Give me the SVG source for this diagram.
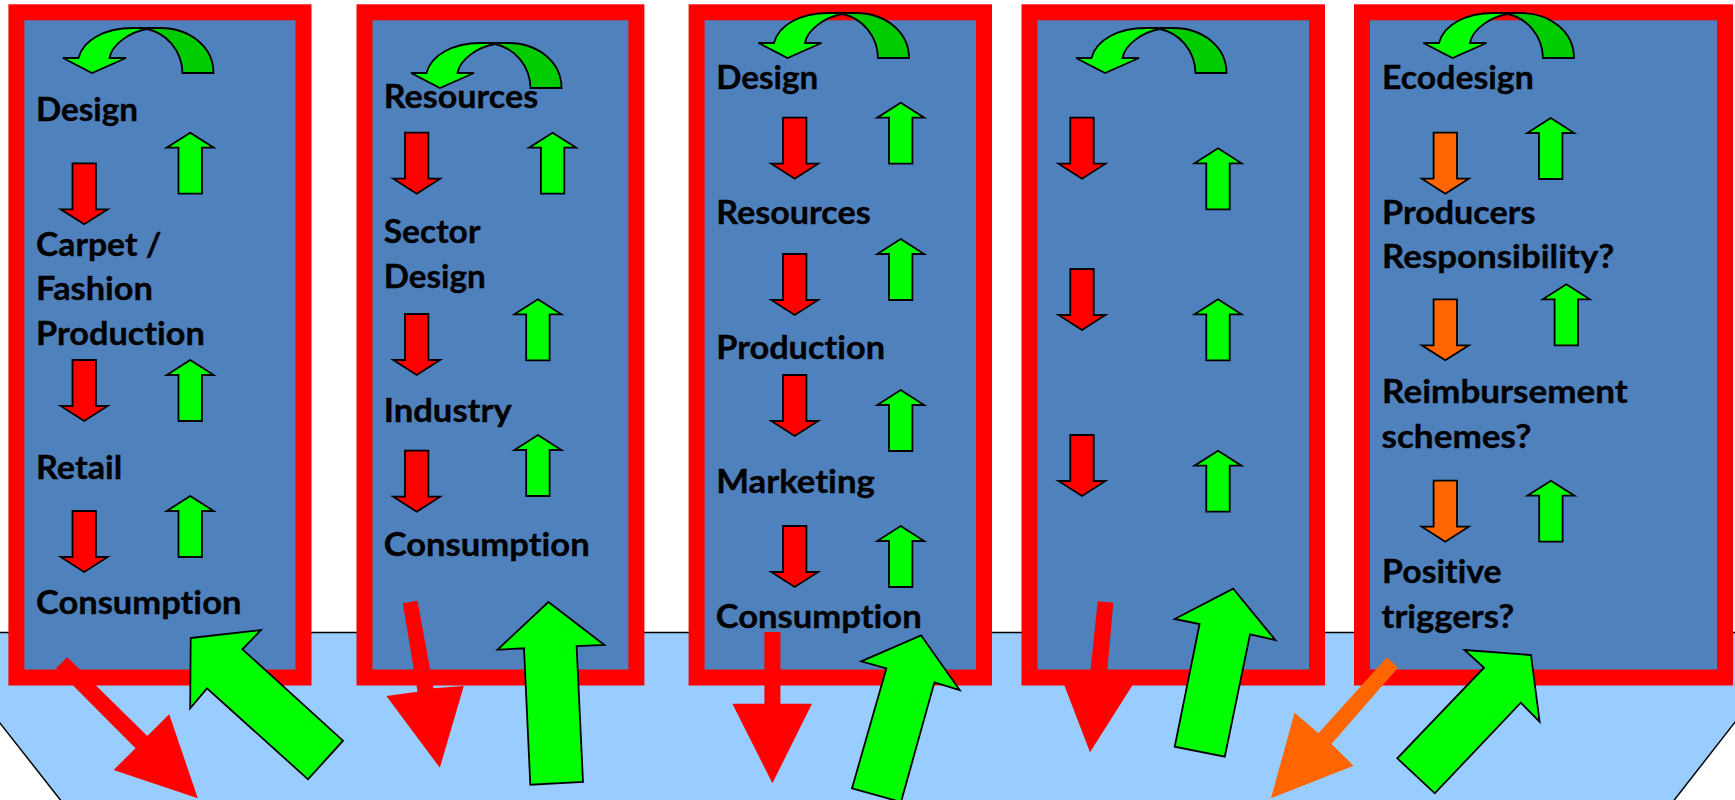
<svg xmlns="http://www.w3.org/2000/svg" width="1735" height="800" viewBox="0 0 1735 800">
<style>
.panel{fill:#4F81BD;stroke:#FF0000;stroke-width:16}
.bg{fill:#99CCFF;stroke:#000;stroke-width:1.5}
.a{stroke:#000;stroke-width:1.8;stroke-linejoin:miter}
.g{fill:#00FF00}.r{fill:#FF0000}.o{fill:#FF6600}.dg{fill:#00CC00}
.big-r{fill:#FF0000;stroke:none}.big-o{fill:#FF6600;stroke:none}
.big-g{fill:#00FF00;stroke:#000;stroke-width:1.8}
text{font-family:Lato,"Liberation Sans",sans-serif;font-weight:700;font-size:32.5px;fill:#000;stroke:#000;stroke-width:.35;font-variant-ligatures:none}
</style>
<defs>
<path id="down" d="M-11.7 0H11.7V46H23.5L0 61L-23.5 46H-11.7Z"/>
<path id="up" d="M0 0L23.5 15H11.7V61H-11.7V15H-23.5Z"/>
<g id="curve">
<path class="a dg" d="M147 29C166 33 182 50 182.5 73H213.5C213.5 47 190 28 160 28H135Z"/>
<path class="a g" d="M147 29C130 32 112 44 109.5 58H126L92 73L63 58H78.5C83 40 105 28 133 28H147Z"/>
</g>
</defs>
<polygon id="ground" class="bg" points="-4,632.5 1739,632.5 1739,717 1672.7,802 62,802 -4,718"/>
<g id="panel-1">
<rect class="panel" x="16.4" y="12.3" width="287.1" height="665.2"/>
<use href="#curve"/>
<use class="a r" href="#down" x="84.2" y="163.3"/><use class="a r" href="#down" x="84.2" y="360"/><use class="a r" href="#down" x="84.2" y="511"/>
<use class="a g" href="#up" x="190.2" y="132.7"/><use class="a g" href="#up" x="190.2" y="360"/><use class="a g" href="#up" x="190.2" y="496"/>
<text x="36" y="121" textLength="102" lengthAdjust="spacingAndGlyphs">Design</text>
<text x="36" y="256" textLength="125.4" lengthAdjust="spacingAndGlyphs">Carpet /</text>
<text x="36" y="300.3" textLength="117" lengthAdjust="spacingAndGlyphs">Fashion</text>
<text x="36" y="345.3" textLength="168.8" lengthAdjust="spacingAndGlyphs">Production</text>
<text x="36" y="479.3" textLength="86.3" lengthAdjust="spacingAndGlyphs">Retail</text>
<text x="36" y="614.3" textLength="205.4" lengthAdjust="spacingAndGlyphs">Consumption</text>
</g>
<g id="panel-2">
<rect class="panel" x="364.5" y="12.3" width="271.9" height="665.2"/>
<use href="#curve" transform="translate(348 15)"/>
<use class="a r" href="#down" x="416.7" y="132.7"/><use class="a r" href="#down" x="416.7" y="314"/><use class="a r" href="#down" x="416.7" y="450.7"/>
<use class="a g" href="#up" x="552.6" y="132.7"/><use class="a g" href="#up" x="537.9" y="299.3"/><use class="a g" href="#up" x="537.9" y="435"/>
<text x="383.7" y="108.3" textLength="154.5" lengthAdjust="spacingAndGlyphs">Resources</text>
<text x="383.7" y="243.3" textLength="96.8" lengthAdjust="spacingAndGlyphs">Sector</text>
<text x="383.7" y="287.7" textLength="102" lengthAdjust="spacingAndGlyphs">Design</text>
<text x="383.7" y="422" textLength="128" lengthAdjust="spacingAndGlyphs">Industry</text>
<text x="383.7" y="556" textLength="206" lengthAdjust="spacingAndGlyphs">Consumption</text>
</g>
<g id="panel-3">
<rect class="panel" x="696.6" y="12.3" width="287.4" height="665.2"/>
<use href="#curve" transform="translate(695.5 -15)"/>
<use class="a r" href="#down" x="794.7" y="117.7"/><use class="a r" href="#down" x="794.7" y="254"/><use class="a r" href="#down" x="794.7" y="375"/><use class="a r" href="#down" x="794.7" y="526"/>
<use class="a g" href="#up" x="900.7" y="102.7"/><use class="a g" href="#up" x="900.7" y="239"/><use class="a g" href="#up" x="900.7" y="390"/><use class="a g" href="#up" x="900.7" y="526"/>
<text x="716.2" y="89.3" textLength="102" lengthAdjust="spacingAndGlyphs">Design</text>
<text x="716.2" y="223.7" textLength="154.5" lengthAdjust="spacingAndGlyphs">Resources</text>
<text x="716.2" y="358.7" textLength="168.8" lengthAdjust="spacingAndGlyphs">Production</text>
<text x="716.2" y="492.7" textLength="158.7" lengthAdjust="spacingAndGlyphs">Marketing</text>
<text x="715.7" y="627.7" textLength="206" lengthAdjust="spacingAndGlyphs">Consumption</text>
</g>
<g id="panel-4">
<rect class="panel" x="1029.5" y="12.3" width="287.5" height="665.2"/>
<use href="#curve" transform="translate(1013 0)"/>
<use class="a r" href="#down" x="1082" y="117.7"/><use class="a r" href="#down" x="1082" y="269"/><use class="a r" href="#down" x="1082" y="435"/>
<use class="a g" href="#up" x="1218" y="148.3"/><use class="a g" href="#up" x="1218" y="299.3"/><use class="a g" href="#up" x="1218" y="450.7"/>
</g>
<g id="panel-5">
<rect class="panel" x="1362" y="12.3" width="363" height="665.2"/>
<use href="#curve" transform="translate(1360.5 -15)"/>
<use class="a o" href="#down" x="1445.3" y="132.7"/><use class="a o" href="#down" x="1445.3" y="299.3"/><use class="a o" href="#down" x="1445.3" y="480.7"/>
<use class="a g" href="#up" x="1550.7" y="118"/><use class="a g" href="#up" x="1566.3" y="284.3"/><use class="a g" href="#up" x="1550.9" y="480.7"/>
<text x="1382.1" y="89.3" textLength="151.7" lengthAdjust="spacingAndGlyphs">Ecodesign</text>
<text x="1382.1" y="223.7" textLength="153.3" lengthAdjust="spacingAndGlyphs">Producers</text>
<text x="1382.1" y="268.3" textLength="232.3" lengthAdjust="spacingAndGlyphs">Responsibility?</text>
<text x="1382.1" y="402.7" textLength="245.7" lengthAdjust="spacingAndGlyphs">Reimbursement</text>
<text x="1381.5" y="447.7" textLength="150" lengthAdjust="spacingAndGlyphs">schemes?</text>
<text x="1382.1" y="582.7" textLength="119.5" lengthAdjust="spacingAndGlyphs">Positive</text>
<text x="1381.5" y="627.7" textLength="132.8" lengthAdjust="spacingAndGlyphs">triggers?</text>
</g>
<g id="connectors">
<polygon class="big-r" points="67.3,657.3 147.3,736 169.2,714.3 197.8,798.3 113.6,770 135.5,748.3 56,668.3"/>
<polygon class="big-g" points="190.7,638 261,630 242.4,649.3 343,740.7 308,779.3 207,688.3 190.2,708.3"/>
<polygon class="big-r" points="402.8,603.3 417.5,600.7 433.5,688.3 463.8,686 439.8,767.7 386.4,696 417.5,691.7"/>
<polygon class="big-g" points="548.4,602 604.4,645 576.6,646 583,782 530.3,784.7 524,648.3 497.5,649.7"/>
<polygon class="big-r" points="764.4,632 780.4,632 780.4,703.7 812,703.7 772.4,783.3 732.4,703.7 764.4,703.7"/>
<polygon class="big-g" points="921,635.3 959.7,690 934.4,682.3 901,802 852,788.3 886.4,668.3 861.2,661.3"/>
<polygon class="big-r" points="1097.7,601.3 1113.3,602.7 1107,674 1139.6,674 1090,752.3 1060,674 1090.1,674"/>
<polygon class="big-g" points="1233.2,588.7 1275.3,640 1250,634.3 1224.8,756.7 1174.7,746.7 1199.6,624 1174.7,619"/>
<polygon class="big-o" points="1387,657.3 1398,667.7 1331.4,744 1353.6,765.7 1271,798.3 1294.5,712.7 1318.4,733.3"/>
<polygon class="big-g" points="1464.5,650 1531,655 1539.6,721.7 1520.8,702.7 1434.8,793.3 1397.3,758.3 1484,667.7"/>
</g>
</svg>
